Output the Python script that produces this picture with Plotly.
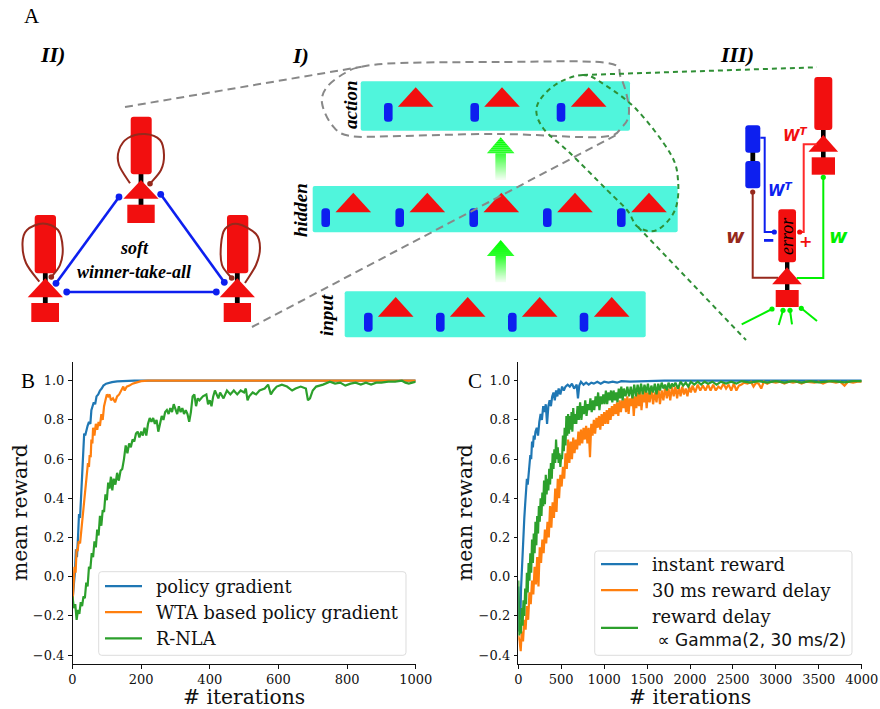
import plotly.graph_objects as go

W, H = 880, 709
BLUE_T, ORANGE_T, GREEN_T = "#1f77b4", "#ff7f0e", "#2ca02c"
RED, BLUE, TEAL, GREY, DGREEN, LIME, BROWN = "#f20f0f", "#0d1fef", "#50f5dc", "#888888", "#2f8f35", "#00f000", "#96291c"

# ---------- panel B data (iteration, mean reward) ----------
b_policy = [(0,-.12),(4,-.05),(7,.02),(10,.14),(13,.10),(16,.2),(19,.32),(22,.3),(25,.42),(28,.55),(31,.64),(34,.73),(37,.72),(40,.75),(44,.77),(48,.79),(52,.78),(55,.85),(58,.87),(62,.89),(66,.88),(70,.92),(75,.93),(80,.95),(85,.96),(90,.975),(98,.985),(105,.99),(115,.993),(130,.997),(150,.998),(180,1.0),(300,1.0),(1000,1.0)]
b_wta = [(0,-.14),(3,-.04),(6,.05),(9,.02),(12,.14),(15,.13),(18,.18),(22,.17),(26,.24),(30,.32),(33,.38),(36,.44),(39,.49),(42,.53),(45,.58),(48,.56),(50,.62),(53,.61),(55,.7),(58,.68),(60,.76),(64,.72),(68,.78),(72,.75),(76,.79),(80,.77),(84,.83),(88,.8),(92,.87),(96,.9),(100,.93),(104,.92),(108,.93),(112,.9),(118,.91),(124,.89),(130,.92),(136,.93),(142,.95),(148,.97),(152,.95),(158,.97),(166,.975),(175,.985),(185,.99),(200,.998),(220,1.0),(1000,1.0)]
b_rnla = [(0,-.10),(4,-.16),(8,-.14),(12,-.22),(16,-.17),(20,-.19),(24,-.13),(28,-.15),(32,-.10),(36,-.11),(40,-.03),(44,-.05),(48,.05),(52,.04),(56,.12),(60,.10),(64,.18),(68,.15),(72,.24),(76,.21),(80,.31),(84,.26),(88,.34),(92,.33),(96,.42),(100,.39),(104,.48),(108,.45),(112,.51),(116,.44),(120,.50),(125,.47),(130,.53),(135,.49),(140,.54),(145,.55),(150,.60),(155,.67),(160,.63),(165,.68),(170,.66),(175,.70),(180,.69),(185,.73),(190,.74),(195,.71),(200,.74),(205,.72),(210,.76),(215,.72),(220,.78),(225,.81),(230,.79),(235,.81),(240,.78),(245,.80),(250,.74),(255,.79),(260,.82),(265,.80),(270,.84),(275,.85),(280,.83),(285,.86),(290,.84),(295,.88),(300,.85),(305,.83),(310,.87),(315,.84),(320,.86),(325,.83),(330,.85),(335,.83),(340,.79),(345,.84),(350,.92),(355,.93),(360,.87),(365,.91),(370,.90),(380,.92),(390,.93),(395,.88),(400,.90),(405,.87),(410,.92),(415,.95),(420,.93),(425,.91),(430,.94),(440,.91),(450,.95),(460,.93),(470,.95),(480,.93),(490,.95),(500,.94),(505,.96),(510,.90),(515,.92),(525,.94),(535,.93),(545,.95),(560,.96),(570,.98),(578,.93),(585,.95),(595,.97),(610,.98),(625,.97),(640,.95),(650,.96),(665,.97),(680,.96),(686,.90),(692,.91),(700,.95),(710,.97),(730,.98),(750,.995),(765,.985),(780,.99),(795,.975),(810,.985),(825,.99),(840,.98),(855,.99),(870,.98),(885,.99),(900,.99),(920,.995),(940,.995),(960,1.0),(970,.99),(980,.985),(990,.99),(1000,.995)]

# ---------- panel C data (iteration, mean reward) ----------
c_instant = [(0,-.05),(8,-.28),(16,-.2),(24,-.22),(32,-.06),(40,.03),(50,.12),(60,.23),(70,.3),(80,.37),(90,.42),(100,.5),(110,.47),(120,.53),(130,.58),(140,.62),(150,.6),(160,.69),(170,.66),(180,.72),(190,.7),(200,.74),(215,.76),(230,.72),(245,.79),(260,.83),(275,.8),(290,.87),(305,.84),(320,.88),(335,.78),(350,.87),(365,.9),(380,.87),(395,.92),(410,.94),(425,.9),(440,.95),(455,.92),(470,.96),(490,.93),(510,.97),(530,.95),(550,.97),(575,.98),(600,.97),(625,.985),(650,.96),(680,.98),(695,.91),(710,.975),(730,.995),(760,.98),(790,.99),(820,.98),(850,.99),(880,.985),(920,.995),(960,.985),(1000,.995),(1050,.99),(1100,.995),(1150,.99),(1200,.998),(1300,.995),(1500,.998),(1700,1.0),(4000,1.0)]
c_delay = [(0,-.3),(15,-.33),(28,-.38),(40,-.28),(55,-.33),(70,-.22),(85,-.27),(100,-.15),(115,-.22),(130,-.08),(145,-.14),(160,-.02),(175,-.09),(190,.05),(205,-.04),(220,.1),(235,-.05),(250,.15),(265,.07),(280,.19),(295,.12),(310,.24),(325,.17),(340,.28),(355,.2),(370,.36),(385,.25),(400,.38),(415,.3),(430,.45),(445,.33),(460,.5),(475,.4),(490,.52),(505,.46),(520,.56),(535,.5),(550,.63),(565,.55),(580,.7),(595,.58),(610,.69),(625,.6),(640,.71),(655,.63),(670,.7),(685,.65),(700,.74),(715,.67),(730,.75),(745,.68),(760,.76),(775,.7),(790,.77),(805,.68),(820,.76),(835,.61),(850,.78),(865,.72),(880,.8),(895,.73),(910,.81),(925,.76),(940,.82),(955,.75),(970,.83),(985,.77),(1000,.84),(1015,.78),(1030,.85),(1045,.78),(1060,.86),(1075,.8),(1090,.87),(1105,.82),(1120,.88),(1135,.83),(1150,.89),(1165,.82),(1180,.9),(1195,.84),(1210,.9),(1225,.86),(1240,.91),(1255,.84),(1270,.92),(1285,.83),(1300,.91),(1315,.87),(1330,.93),(1345,.82),(1360,.92),(1375,.86),(1390,.94),(1405,.87),(1420,.95),(1435,.85),(1450,.93),(1465,.89),(1480,.96),(1495,.86),(1510,.94),(1530,.89),(1550,.96),(1570,.88),(1590,.94),(1610,.89),(1630,.97),(1650,.88),(1670,.95),(1690,.9),(1710,.97),(1730,.91),(1750,.96),(1770,.9),(1790,.97),(1810,.92),(1830,.97),(1850,.91),(1870,.97),(1890,.92),(1910,.97),(1930,.93),(1950,.96),(1970,.92),(1990,.97),(2010,.94),(2030,.975),(2060,.94),(2090,.98),(2120,.95),(2150,.975),(2180,.95),(2210,.98),(2240,.95),(2270,.98),(2300,.95),(2330,.97),(2360,.96),(2390,.985),(2420,.96),(2450,.98),(2480,.95),(2510,.985),(2540,.95),(2570,.975),(2600,.98),(2630,.99),(2670,.985),(2710,.995),(2740,.97),(2770,.99),(2800,.985),(2830,.96),(2860,.995),(2900,.985),(2940,.995),(3000,.99),(3050,.995),(3100,.985),(3150,.995),(3200,.99),(3250,.995),(3300,.985),(3350,.995),(3450,.99),(3500,.995),(3550,.985),(3620,.998),(3700,.99),(3750,.995),(3800,.975),(3840,.995),(3900,.99),(3950,.995),(4000,.995)]
c_gamma = [(0,-.02),(10,-.3),(20,-.24),(30,-.29),(40,-.16),(50,-.25),(60,-.12),(70,-.2),(80,-.06),(90,-.14),(100,.02),(110,-.08),(120,.07),(130,-.02),(140,.12),(150,.02),(160,.19),(170,.07),(180,.22),(190,.12),(200,.28),(210,.16),(220,.31),(230,.22),(240,.36),(250,.28),(260,.4),(270,.31),(280,.43),(290,.36),(300,.49),(310,.37),(320,.52),(330,.42),(340,.5),(350,.44),(360,.55),(370,.47),(380,.58),(390,.5),(400,.63),(410,.55),(420,.65),(430,.58),(440,.7),(450,.6),(460,.66),(470,.58),(480,.63),(490,.56),(500,.62),(510,.6),(520,.72),(530,.64),(540,.76),(550,.67),(560,.82),(570,.72),(580,.83),(590,.73),(600,.82),(610,.75),(620,.84),(630,.74),(640,.86),(650,.78),(660,.83),(675,.78),(690,.87),(705,.8),(720,.89),(735,.8),(750,.87),(765,.83),(780,.9),(795,.82),(810,.88),(825,.85),(840,.91),(855,.84),(870,.9),(885,.85),(900,.92),(915,.87),(930,.94),(945,.85),(960,.92),(975,.88),(990,.93),(1005,.88),(1020,.95),(1035,.88),(1050,.94),(1065,.9),(1080,.95),(1095,.89),(1110,.95),(1125,.9),(1140,.94),(1155,.89),(1170,.96),(1185,.91),(1200,.97),(1215,.9),(1230,.96),(1250,.92),(1270,.97),(1290,.92),(1310,.97),(1330,.91),(1350,.98),(1370,.92),(1390,.98),(1410,.93),(1430,.985),(1450,.93),(1470,.98),(1490,.94),(1510,.985),(1530,.93),(1550,.975),(1570,.94),(1590,.985),(1610,.93),(1630,.985),(1650,.95),(1670,.99),(1690,.96),(1710,.98),(1730,.95),(1750,.99),(1770,.96),(1790,.985),(1810,.97),(1830,.99),(1860,.96),(1890,.995),(1920,.975),(1950,.99),(1980,.97),(2010,.995),(2050,.98),(2090,.995),(2130,.98),(2170,.995),(2210,.985),(2260,.995),(2310,.98),(2360,.995),(2420,.985),(2480,.995),(2540,.985),(2600,.998),(2700,.99),(2800,.998),(2900,.99),(3000,.998),(3100,.99),(3200,.998),(3300,.99),(3400,.998),(3500,.992),(3650,.998),(3800,.992),(3900,.998),(4000,.998)]

b_names = ["\u2002policy gradient", "\u2002WTA based policy gradient", "\u2002R-NLA"]
c_names = ["\u2002instant reward", "\u200230 ms reward delay",
           "\u2002reward delay<br>\u2002 <span style=\"font-family:'DejaVu Sans';font-size:17px\">∝ Gamma(2, 30 ms/2)</span>"]
b_xticks = [0, 200, 400, 600, 800, 1000]
c_xticks = [0, 500, 1000, 1500, 2000, 2500, 3000, 3500, 4000]
y_ticks = [-0.4, -0.2, 0.0, 0.2, 0.4, 0.6, 0.8, 1.0]

# ---------- schematic geometry (pixels of the image) ----------
bars = [  # x0, x1, y0, y1, apex xs, blue xs, apex y, base y, blue y0, blue y1
    (360.7, 630, 81.3, 130.7, [415.7, 502, 588.7], [388.3, 474.7, 561], 87.3, 106.7, 103, 121.7),
    (312.7, 677.7, 186, 232.3, [353.3, 427.3, 501.3, 575, 649], [325.7, 399.7, 473.7, 547.3, 621.3], 192.7, 212.3, 208.3, 227),
    (344.7, 645.7, 291.3, 337.3, [395.7, 467.7, 539.7, 611.7], [368.3, 440.3, 512.3, 584], 297, 316.7, 312.7, 331.7),
]
wta_neurons = [  # centre x, dendrite x0, x1, y0, y1, apex y, base y, soma x0, x1, y0, y1
    (141, 130.7, 151.7, 116.7, 174.3, 180, 198.7, 127.3, 154.7, 204.7, 223),
    (45.3, 34.7, 56, 215, 273.3, 278.3, 297.3, 31.3, 59, 303, 322),
    (237.3, 227, 248.3, 215, 273.3, 278.3, 297.3, 223.7, 251, 303, 322),
]
wta_loops = [
    [(130, 183.3), (119, 165), (119, 150), (128, 138), (145, 134), (160, 140), (164, 155), (161, 170), (150, 183.7)],
    [(39.3, 281.7), (26, 263), (22.5, 243), (27, 230), (43, 223.5), (58, 230), (62.7, 248), (60, 265), (51.3, 277)],
    [(245, 283), (256, 265), (260, 248), (256, 234), (238, 224), (225, 229), (221, 245), (222, 265), (231.7, 278)],
]
wta_dots = [(150, 183.7), (51.3, 277), (231.7, 278)]
wta_lines = [((119, 197), (56, 283.3)), ((160.7, 194.3), (224.3, 282.3)), ((66.7, 292), (216.3, 292))]
grey_blob = [(361.7, 66.7), (400, 63), (500, 62), (605, 62.7), (621, 78), (629, 110), (622, 127), (600, 137), (500, 134), (400, 136), (350, 136), (332, 125), (322, 103), (327, 87), (345, 73)]
green_blob = [(583, 75), (555, 85), (537, 106), (543, 128), (570, 153), (607, 190), (627, 210), (638, 227), (657, 230), (675, 210), (678, 180), (670, 153), (637, 110), (605, 85)]
grey_lines = [((125, 107), (361.7, 66.7)), ((252, 327), (618, 134))]
green_lines = [((583, 75), (817, 67.3)), ((638, 227), (746, 340))]
arrows = [(500.7, 137.3, 153.3, 179.3), (500.7, 240, 256, 281.7)]


def X(x):
    return x / W


def Y(y):
    return 1 - y / H


def P(x, y):
    return f"{X(x):.5f},{Y(y):.5f}"


shapes = []


def rect(x0, x1, y0, y1, color, r=0.0):
    r = min(r, (x1 - x0) / 2, (y1 - y0) / 2)
    if r:
        p = (f"M{P(x0+r,y0)}L{P(x1-r,y0)}Q{P(x1,y0)} {P(x1,y0+r)}L{P(x1,y1-r)}Q{P(x1,y1)} {P(x1-r,y1)}"
             f"L{P(x0+r,y1)}Q{P(x0,y1)} {P(x0,y1-r)}L{P(x0,y0+r)}Q{P(x0,y0)} {P(x0+r,y0)}Z")
    else:
        p = f"M{P(x0,y0)}L{P(x1,y0)}L{P(x1,y1)}L{P(x0,y1)}Z"
    shapes.append(dict(type="path", xref="paper", yref="paper", path=p, fillcolor=color, line=dict(width=0)))


def tri(cx, apex, base, hw, color=RED):
    shapes.append(dict(type="path", xref="paper", yref="paper",
                       path=f"M{P(cx,apex)}L{P(cx+hw,base)}L{P(cx-hw,base)}Z", fillcolor=color, line=dict(width=0)))


def poly(pts, color, width, dash="solid"):
    p = "M" + "L".join(P(*q) for q in pts)
    shapes.append(dict(type="path", xref="paper", yref="paper", path=p,
                       line=dict(color=color, width=width, dash=dash)))


def smooth(pts, color, width, dash="solid", closed=False):
    n = len(pts)
    idx = lambda i: pts[i % n] if closed else pts[max(0, min(n - 1, i))]
    p = "M" + P(*pts[0])
    for i in range(n if closed else n - 1):
        a, b, c, d = idx(i - 1), idx(i), idx(i + 1), idx(i + 2)
        c1 = (b[0] + (c[0] - a[0]) / 6, b[1] + (c[1] - a[1]) / 6)
        c2 = (c[0] - (d[0] - b[0]) / 6, c[1] - (d[1] - b[1]) / 6)
        p += f"C{P(*c1)} {P(*c2)} {P(*c)}"
    shapes.append(dict(type="path", xref="paper", yref="paper", path=p,
                       line=dict(color=color, width=width, dash=dash)))


def dot(x, y, r, color):
    shapes.append(dict(type="circle", xref="paper", yref="paper", x0=X(x - r), x1=X(x + r),
                       y0=Y(y + r), y1=Y(y - r), fillcolor=color, line=dict(width=0)))


# layer bars
for x0, x1, y0, y1, apexes, blues, ay, by, b0, b1 in bars:
    rect(x0, x1, y0, y1, TEAL, 2)
    for a in apexes:
        tri(a, ay, by, 17.8)
    for b in blues:
        rect(b - 4.3, b + 4.3, b0, b1, BLUE, 3.5)

# green gradient arrows
for cx, top, neck, bot in arrows:
    for k in range(8):
        t0 = top + (neck - top) * k / 8
        hw0 = 13.8 * k / 8
        hw1 = 13.8 * (k + 1) / 8
        t1 = top + (neck - top) * (k + 1) / 8
        shapes.append(dict(type="path", xref="paper", yref="paper",
                           path=f"M{P(cx-hw0,t0)}L{P(cx+hw0,t0)}L{P(cx+hw1,t1)}L{P(cx-hw1,t1)}Z",
                           fillcolor=f"rgb({k*6},255,{k*6})", line=dict(width=0)))
    steps = 26
    for k in range(steps):
        f = k / (steps - 1)
        g = int(48 + 190 * f)
        rect(cx - 5.2, cx + 5.2, neck + (bot - neck) * k / steps, neck + (bot - neck) * (k + 1) / steps + .5,
             f"rgb({g},255,{g})")

# zoom outlines
for a, b in grey_lines:
    poly([a, b], GREY, 2, "8px,5px")
smooth(grey_blob, GREY, 2, "8px,5px", closed=True)
for a, b in green_lines:
    poly([a, b], DGREEN, 2, "5px,4px")
smooth(green_blob, DGREEN, 2, "5px,4px", closed=True)

# winner-take-all
for cx, d0, d1, dy0, dy1, ay, by, s0, s1, sy0, sy1 in wta_neurons:
    rect(cx - 2.4, cx + 2.4, dy1 - 1, sy0 + 1, "#000000")
    rect(d0, d1, dy0, dy1, RED, 3)
    tri(cx, ay, by, 17.6)
    rect(s0, s1, sy0, sy1, RED)
for a, b in wta_lines:
    poly([a, b], BLUE, 2.6)
    dot(*a, 3.4, BLUE)
    dot(*b, 3.4, BLUE)
for loop in wta_loops:
    smooth(loop, BROWN, 2)
for d in wta_dots:
    dot(*d, 2.8, BROWN)

# learning-rule neuron group (panel III)
rect(821, 825.6, 129, 158, "#000000")
rect(814.3, 832.3, 77, 130, RED, 3)
tri(823.3, 135, 151.7, 14.8)
rect(811.7, 835, 157.3, 174.7, RED)
rect(750.4, 755.2, 152, 162, "#000000")
rect(745.3, 760.3, 125.3, 152.7, BLUE, 3)
rect(745.3, 760.3, 161, 188.3, BLUE, 3)
rect(785, 789.4, 261, 291, "#000000")
poly([(760.3, 137.7), (764.7, 137.7), (764.7, 232), (774.3, 232)], BLUE, 2)
dot(774.3, 232, 2.6, BLUE)
poly([(816.7, 144.3), (803.7, 144.3), (803.7, 232), (799.7, 232)], "#ff2a2a", 2)
dot(799.7, 232, 2.6, RED)
poly([(752.7, 192), (752.7, 277.7), (778, 277.7)], BROWN, 2)
dot(752.7, 192, 2.6, BROWN)
rect(778.3, 796, 209.3, 262.3, RED, 3)
tri(787, 267.3, 284.3, 14.8)
rect(775.7, 798.7, 290, 307, RED)
poly([(823.3, 177.3), (823.3, 278), (796.7, 278)], LIME, 2)
dot(823.3, 177.3, 2.6, LIME)
for a, b in [((741.7, 324.3), (772, 309)), ((778.7, 325), (783, 310.3)),
             ((792, 324.3), (790, 310.3)), ((817, 321), (801.3, 308.3))]:
    poly([a, b], LIME, 2)
    dot(*b, 2.6, LIME)
rect(764, 773.3, 239, 241.8, BLUE)

# legend frames
rect(98.7, 406, 571.7, 655.3, "rgba(255,255,255,0.8)", 3)
shapes[-1]["line"] = dict(color="#dddddd", width=1)
rect(594.7, 852, 551, 655.3, "rgba(255,255,255,0.8)", 3)
shapes[-1]["line"] = dict(color="#dddddd", width=1)

SERIF = "Liberation Serif"
notes = []


def note(x, y, text, size, color="#000000", family=SERIF, angle=0):
    notes.append(dict(xref="paper", yref="paper", x=X(x), y=Y(y), text=text, showarrow=False,
                      xanchor="center", yanchor="middle", textangle=angle,
                      font=dict(family=family, size=size, color=color)))


note(32, 16, "A", 21)
note(28, 381, "B", 21)
note(475, 381, "C", 21)
note(52, 55, "<b><i>II)</i></b>", 22)
note(300, 56, "<b><i>I)</i></b>", 22)
note(737, 55, "<b><i>III)</i></b>", 22)
note(350, 105, "<b><i>action</i></b>", 19, angle=-90)
note(300, 210, "<b><i>hidden</i></b>", 19, angle=-90)
note(326, 315, "<b><i>input</i></b>", 19, angle=-90)
note(134, 248, "<b><i>soft</i></b>", 18)
note(134, 272, "<b><i>winner-take-all</i></b>", 18)
note(787, 236, "<i>error</i>", 18, angle=-90)
SANS = "DejaVu Sans"
note(795, 135, "<b><i>W<sup>T</sup></i></b>", 15, RED, SANS)
note(780, 190, "<b><i>W<sup>T</sup></i></b>", 15, BLUE, SANS)
note(735, 236, "<b><i>w</i></b>", 20, BROWN, SANS)
note(838, 236, "<b><i>w</i></b>", 20, LIME, SANS)
note(805, 241, "<b>+</b>", 16, RED, SANS)
AX_TITLE = "DejaVu Serif"
note(20, 513, "mean reward", 20.3, "#111111", AX_TITLE, -90)
note(465, 513, "mean reward", 20.3, "#111111", AX_TITLE, -90)
note(244, 696.5, "# iterations", 20.3, "#111111", AX_TITLE)
note(690.3, 696.5, "# iterations", 20.3, "#111111", AX_TITLE)

fig = go.Figure()
for data, name, col in zip([b_policy, b_wta, b_rnla], b_names, [BLUE_T, ORANGE_T, GREEN_T]):
    fig.add_trace(go.Scatter(x=[p[0] for p in data], y=[p[1] for p in data], mode="lines", name=name,
                             line=dict(color=col, width=2.2), legend="legend", legendgroup=name,
                             xaxis="x", yaxis="y", cliponaxis=False))
for data, name, col in zip([c_instant, c_delay, c_gamma], c_names, [BLUE_T, ORANGE_T, GREEN_T]):
    fig.add_trace(go.Scatter(x=[p[0] for p in data], y=[p[1] for p in data], mode="lines", name=name,
                             line=dict(color=col, width=2.2), legend="legend2", legendgroup=name,
                             xaxis="x2", yaxis="y2", cliponaxis=False))

tick_font = dict(family="DejaVu Serif", size=13, color="#111111")
axis_common = dict(showgrid=False, zeroline=False, showline=True, linecolor="#111111", linewidth=1,
                   ticks="outside", ticklen=3.5, tickwidth=1, tickcolor="#111111", tickfont=tick_font,
                   automargin=False)
ydom = [1 - 664.3 / H, 1 - 361.7 / H]
legend_font = dict(family="DejaVu Serif", size=17.8, color="#111111")
fig.update_layout(
    width=W, height=H, autosize=False, margin=dict(l=0, r=0, t=0, b=0),
    paper_bgcolor="white", plot_bgcolor="rgba(0,0,0,0)", showlegend=True,
    xaxis=dict(domain=[72.5 / W, 415.7 / W], range=[0, 1000], tickvals=b_xticks, anchor="y", **axis_common),
    yaxis=dict(domain=ydom, range=[-0.447, 1.097], tickvals=y_ticks, tickformat=".1f", anchor="x",
               ticklabelstandoff=1, **axis_common),
    xaxis2=dict(domain=[518.3 / W, 861.7 / W], range=[0, 4000], tickvals=c_xticks, anchor="y2", **axis_common),
    yaxis2=dict(domain=ydom, range=[-0.447, 1.097], tickvals=y_ticks, tickformat=".1f", anchor="x2",
                ticklabelstandoff=1, **axis_common),
    legend=dict(x=X(100), y=Y(568), xanchor="left", yanchor="top", itemwidth=37, tracegroupgap=0,
                bgcolor="rgba(0,0,0,0)", borderwidth=0, font=legend_font),
    legend2=dict(x=X(596), y=Y(546), xanchor="left", yanchor="top", itemwidth=37, tracegroupgap=0,
                 bgcolor="rgba(0,0,0,0)", borderwidth=0, font=legend_font),
    shapes=shapes, annotations=notes,
)
fig.write_html("out.html", config={"displayModeBar": False},
               post_script="document.body.style.margin='0';document.body.style.overflow='hidden';")
